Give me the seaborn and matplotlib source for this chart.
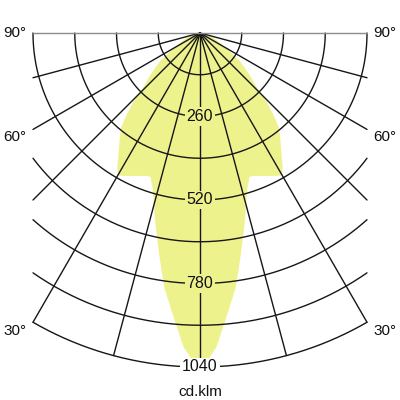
import numpy as np
import pandas as pd
import matplotlib
matplotlib.use("Agg")
import matplotlib.pyplot as plt
import seaborn as sns

# light distribution curve, angle from nadir (deg, negative = left side) and cd/klm
angles = [-90, -80, -70, -62, -55, -50, -46, -44, -42, -40, -38, -35, -32, -30,
          -28, -25, -22, -20, -19, -17, -15.5, -13.5, -10.5, -8, -5, -3, -1.4, 0,
          1.4, 3, 5, 8, 10.5, 13.5, 15.5, 17, 19, 20, 22, 25, 28, 30,
          32, 35, 38, 40, 42, 44, 46, 50, 55, 62, 70, 80, 90]
intensity = [0, 15, 45, 80, 150, 200, 250, 300, 340, 380, 405, 440, 485, 512,
             504, 491, 480, 474, 474, 505, 540, 600, 700, 800, 900, 979, 1018, 1040,
             1018, 979, 900, 800, 700, 600, 540, 505, 474, 474, 480, 491, 504, 512,
             485, 440, 405, 380, 340, 300, 250, 200, 150, 80, 45, 15, 0]

ring_values = [130, 260, 390, 520, 650, 780, 910, 1040]
ring_labels = [260, 520, 780, 1040]
radial_angles = [-90, -75, -60, -45, -30, -15, 0, 15, 30, 45, 60, 75, 90]
angle_labels = ["90°", "60°", "30°"]

r_max = 1040
half_width = 520
fill_color = "#eef28c"
line_color = "#161616"

sns.set_theme(style="white")
plt.rcParams["font.family"] = ["Liberation Sans", "DejaVu Sans"]

fig = plt.figure(figsize=(4, 4), dpi=100)
ax = fig.add_axes([0, 0, 1, 1])
scale = r_max / 334.0
ax.set_xlim(-200 * scale, 200 * scale)
ax.set_ylim(-367 * scale, 33 * scale)
ax.set_aspect("equal")
ax.axis("off")

# distribution area
th = np.radians(angles)
I = np.array(intensity, dtype=float)
ax.fill(I * np.sin(th), -I * np.cos(th), color=fill_color, lw=0, zorder=1)

# grid: rings clipped to the box |x| <= 520
rows = []
for r in ring_values:
    lim = 90.0 if r <= half_width else np.degrees(np.arcsin(half_width / r))
    t = np.radians(np.linspace(-lim, lim, 200))
    for xx, yy in zip(r * np.sin(t), -r * np.cos(t)):
        rows.append({"line": f"ring{r}", "x": xx, "y": yy})
for a in radial_angles:
    if abs(a) == 90:
        continue
    s = abs(np.sin(np.radians(a)))
    length = r_max if s == 0 else min(r_max, half_width / s)
    for rr in (0, length):
        rows.append({"line": f"rad{a}", "x": rr * np.sin(np.radians(a)),
                     "y": -rr * np.cos(np.radians(a))})
grid = pd.DataFrame(rows)
sns.lineplot(data=grid, x="x", y="y", units="line", estimator=None, sort=False,
             color=line_color, lw=1.0, ax=ax, zorder=2, legend=False)
ax.plot([-half_width, half_width], [0, 0], color="#8c8c8c", lw=1.0, zorder=2)

# ring value labels on the vertical axis
for v in ring_labels:
    bg = "white" if v == r_max else fill_color
    ax.text(0, -v, str(v), ha="center", va="center", fontsize=11.5, color="#111111",
            zorder=3, bbox=dict(boxstyle="square,pad=0.12", fc=bg, ec="none"))

# angle labels on both sides
label_y = [0, -104 * scale, -298.5 * scale]
for txt, yy in zip(angle_labels, label_y):
    ax.text(-185 * scale, yy, txt, ha="center", va="center", fontsize=11, color="#111111")
    ax.text(185 * scale, yy, txt, ha="center", va="center", fontsize=11, color="#111111")

ax.text(0, -359 * scale, "cd.klm", ha="center", va="center", fontsize=11, color="#111111")

fig.savefig("out.png", dpi=100)
